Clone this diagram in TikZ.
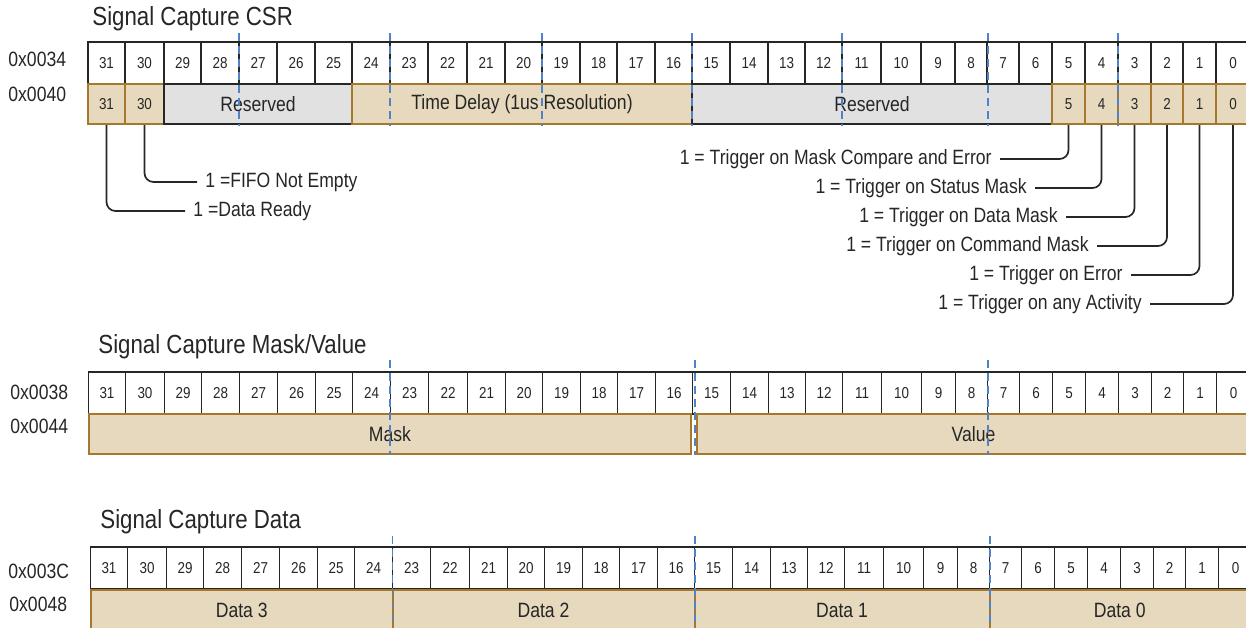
\documentclass[tikz,border=0pt]{standalone}
\usepackage{fontspec}
\setmainfont[FakeStretch=0.85]{Liberation Sans}
\definecolor{fieldTan}{RGB}{230,217,189}
\definecolor{fieldBrown}{RGB}{165,120,45}
\definecolor{fieldGray}{RGB}{225,225,225}
\definecolor{guideBlue}{RGB}{80,130,200}
\definecolor{mainBlack}{gray}{0.15}
\def\bitedges{{88,125,164,201,239,277,315,352,390,428,467,505,542,580,617,655,692,730,768,805,842,881,921,955,987,1019,1052,1085,1118,1151,1183,1216,1250}}
\tikzset{
  bitcell/.style={draw=mainBlack, fill=white, line width=0.9pt, minimum height=21pt, inner sep=0pt, text=mainBlack, font=\fontsize{7.9}{9}\selectfont},
  tanfield/.style={draw=fieldBrown, fill=fieldTan, line width=1pt, minimum height=20pt, inner sep=0pt, text=mainBlack, font=\fontsize{10.35}{12}\selectfont},
  tanbit/.style={tanfield, font=\fontsize{7.9}{9}\selectfont},
  grayfield/.style={draw=mainBlack, fill=fieldGray, line width=0.9pt, minimum height=20pt, inner sep=0pt, text=mainBlack, font=\fontsize{10.35}{12}\selectfont},
  regtitle/.style={anchor=west, inner sep=0pt, text=mainBlack, font=\fontsize{13.1}{15}\selectfont},
  addr/.style={anchor=west, inner sep=0pt, text=mainBlack, font=\fontsize{10.35}{12}\selectfont},
  note/.style={inner sep=4pt, text=mainBlack, font=\fontsize{10.35}{12}\selectfont},
  leader/.style={draw=mainBlack, line width=0.85pt, rounded corners=4.5pt},
  guide/.style={draw=guideBlue, line width=0.75pt, dash pattern=on 4pt off 2.5pt}
}
\begin{document}
\begin{tikzpicture}[x=0.5pt, y=-0.5pt]
    \clip (0,0) rectangle (1246,627);

    \node[regtitle] (csr-title) at (92,19) {Signal Capture CSR};
    \node[regtitle] (mv-title) at (98,347) {Signal Capture Mask/Value};
    \node[regtitle] (dat-title) at (100,522) {Signal Capture Data};

    \node[addr] (csr-addr1) at (8,59) {0x0034};
    \node[addr] (csr-addr2) at (8,94) {0x0040};
    \node[addr] (mv-addr1) at (10,392) {0x0038};
    \node[addr] (mv-addr2) at (10,426) {0x0044};
    \node[addr] (dat-addr1) at (8,571) {0x003C};
    \node[addr] (dat-addr2) at (9,604) {0x0048};

    \foreach \reg/\dx/\yc in {csr/0/63, mv/0.5/393, dat/2.5/568} {
      \foreach \i in {0,...,31} {
        \pgfmathsetmacro\xa{\bitedges[\i]+\dx}
        \pgfmathsetmacro\xb{\bitedges[\i+1]+\dx}
        \pgfmathsetmacro\cw{0.5*(\xb-\xa)}
        \pgfmathtruncatemacro\bit{31-\i}
        \node[bitcell, minimum width=\cw pt] (\reg-n\bit) at ({(\xa+\xb)/2},\yc) {\bit};
      }
    }

    \node[tanbit, minimum width=18.5pt] (csr-f31) at (106.5,104) {31};
    \node[tanbit, minimum width=19.5pt] (csr-f30) at (144.5,104) {30};
    \node[grayfield, minimum width=94pt] (csr-rsv1) at (258,104) {Reserved};
    \node[tanfield, minimum width=170pt] (csr-delay) at (522,104) {Time Delay (1us Resolution)};
    \node[grayfield, minimum width=180pt] (csr-rsv2) at (872,104) {Reserved};
    \node[tanbit, minimum width=16.5pt] (csr-f5) at (1068.5,104) {5};
    \node[tanbit, minimum width=16.5pt] (csr-f4) at (1101.5,104) {4};
    \node[tanbit, minimum width=16.5pt] (csr-f3) at (1134.5,104) {3};
    \node[tanbit, minimum width=16pt] (csr-f2) at (1167,104) {2};
    \node[tanbit, minimum width=16.5pt] (csr-f1) at (1199.5,104) {1};
    \node[tanbit, minimum width=17pt] (csr-f0) at (1233,104) {0};

    \node[tanfield, minimum width=301pt] (mv-mask) at (390,434) {Mask};
    \node[tanfield, minimum width=276.5pt] (mv-value) at (973.5,434) {Value};

    \node[tanfield, minimum width=150.75pt] (dat-d3) at (241.75,610) {Data 3};
    \node[tanfield, minimum width=151pt] (dat-d2) at (543.5,610) {Data 2};
    \node[tanfield, minimum width=147.5pt] (dat-d1) at (842,610) {Data 1};
    \node[tanfield, minimum width=130.25pt] (dat-d0) at (1119.75,610) {Data 0};

    \node[note, anchor=west] (csr-fifo) at (197,182) {1 =FIFO Not Empty};
    \node[note, anchor=west] (csr-ready) at (185,211) {1 =Data Ready};
    \node[note, anchor=east] (csr-mce) at (1000,159) {1 = Trigger on Mask Compare and Error};
    \node[note, anchor=east] (csr-stat) at (1035,188) {1 = Trigger on Status Mask};
    \node[note, anchor=east] (csr-data) at (1066,217) {1 = Trigger on Data Mask};
    \node[note, anchor=east] (csr-cmd) at (1097,246) {1 = Trigger on Command Mask};
    \node[note, anchor=east] (csr-err) at (1131,275) {1 = Trigger on Error};
    \node[note, anchor=east] (csr-any) at (1150,304) {1 = Trigger on any Activity};

    \draw[leader] (csr-f30.south) |- (csr-fifo.west);
    \draw[leader] (csr-f31.south) |- (csr-ready.west);
    \draw[leader] (csr-f5.south) |- (csr-mce.east);
    \draw[leader] (csr-f4.south) |- (csr-stat.east);
    \draw[leader] (csr-f3.south) |- (csr-data.east);
    \draw[leader] (csr-f2.south) |- (csr-cmd.east);
    \draw[leader] (csr-f1.south) |- (csr-err.east);
    \draw[leader] (csr-f0.south) |- (csr-any.east);

    \foreach \gx in {239,390,542,692,842,988,1118}
      \draw[guide] (\gx,33) -- (\gx,126);
    \foreach \gx in {390,695,988}
      \draw[guide] (\gx,360) -- (\gx,455);
    \foreach \gx in {392.5,695,990}
      \draw[guide] (\gx,536) -- (\gx,627);
\end{tikzpicture}
\end{document}
